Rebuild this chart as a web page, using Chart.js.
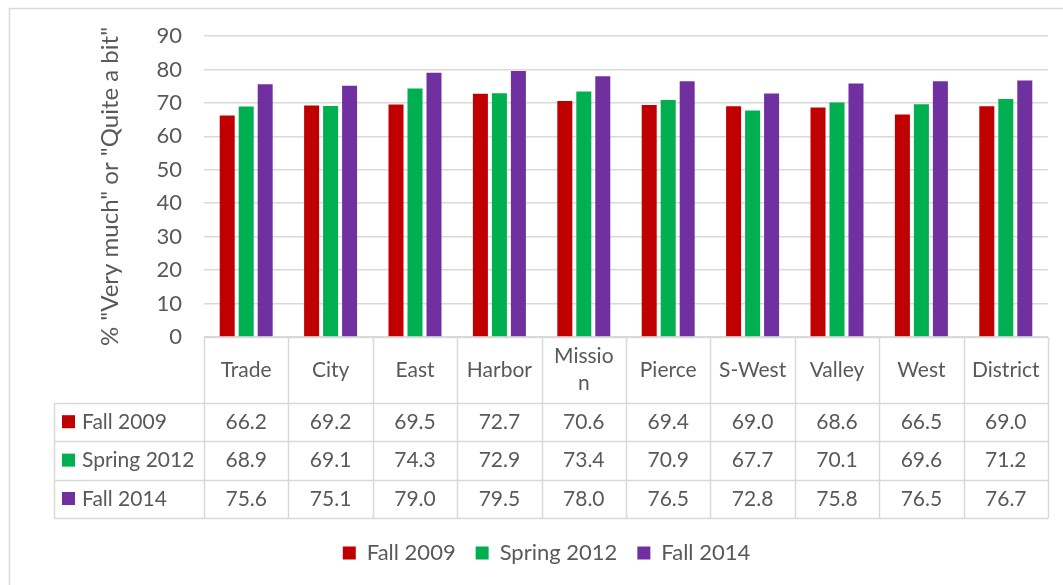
<!DOCTYPE html>
<html>
<head>
<meta charset="utf-8">
<script src="https://cdn.jsdelivr.net/npm/chart.js@4"></script>
<style>
  html, body { margin: 0; padding: 0; background: #fff; }
  #wrap { width: 1063px; height: 585px; }
</style>
</head>
<body>
<div id="wrap"><canvas id="myChart" width="1063" height="585"></canvas></div>
<script>
let categories = ["Trade", "City", "East", "Harbor", "Mission", "Pierce", "S-West", "Valley", "West", "District"];
let headerLabels = [["Trade"], ["City"], ["East"], ["Harbor"], ["Missio", "n"], ["Pierce"], ["S-West"], ["Valley"], ["West"], ["District"]];
let fall2009 = [66.2, 69.2, 69.5, 72.7, 70.6, 69.4, 69.0, 68.6, 66.5, 69.0];
let spring2012 = [68.9, 69.1, 74.3, 72.9, 73.4, 70.9, 67.7, 70.1, 69.6, 71.2];
let fall2014 = [75.6, 75.1, 79.0, 79.5, 78.0, 76.5, 72.8, 75.8, 76.5, 76.7];
let seriesNames = ["Fall 2009", "Spring 2012", "Fall 2014"];
let seriesColors = ["#C00000", "#00B050", "#7030A0"];
let yTitle = '% "Very much" or "Quite a bit"';

const textColor = "#595959";
const lineColor = "#D9D9D9";
const fontFamily = "Lato, 'Open Sans', sans-serif";

// frame around the whole chart + data table under the plot
const tablePlugin = {
  id: "dataTable",
  beforeDraw(chart) {
    const ctx = chart.ctx;
    ctx.save();
    ctx.fillStyle = "#fff";
    ctx.fillRect(0, 0, chart.width, chart.height);
    ctx.strokeStyle = lineColor;
    ctx.lineWidth = 1.5;
    ctx.strokeRect(9.5, 8.5, 1200, 800);
    ctx.restore();
  },
  afterLayout(chart) {
    // nudge legend so it sits centred like the original
    chart.legend.left += 18;
    chart.legend.right += 18;
  },
  afterDraw(chart) {
    const ctx = chart.ctx;
    const area = chart.chartArea;
    const x = chart.scales.x;
    const colW = (area.right - area.left) / categories.length;
    const top = area.bottom;
    const headerH = 66;
    const rowH = 38.4;
    const labelLeft = 54;
    const rows = [fall2009, spring2012, fall2014];
    const bottom = top + headerH + rowH * rows.length;

    ctx.save();
    ctx.strokeStyle = lineColor;
    ctx.lineWidth = 1.5;
    ctx.beginPath();
    // vertical lines
    for (let i = 0; i <= categories.length; i++) {
      const lx = Math.round(area.left + i * colW) + 0.5;
      ctx.moveTo(lx, top);
      ctx.lineTo(lx, bottom);
    }
    ctx.moveTo(labelLeft + 0.5, top + headerH);
    ctx.lineTo(labelLeft + 0.5, bottom);
    // horizontal lines
    ctx.moveTo(area.left, top + 0.5);
    ctx.lineTo(area.right, top + 0.5);
    for (let r = 0; r <= rows.length; r++) {
      const ly = Math.round(top + headerH + r * rowH) + 0.5;
      ctx.moveTo(labelLeft, ly);
      ctx.lineTo(area.right, ly);
    }
    ctx.stroke();

    ctx.fillStyle = textColor;
    ctx.font = "21px " + fontFamily;
    ctx.textAlign = "center";
    ctx.textBaseline = "middle";
    // header labels
    categories.forEach((c, i) => {
      const cx = x.getPixelForValue(i);
      const lines = headerLabels[i];
      const lh = 27;
      const y0 = top + headerH / 2 - (lines.length - 1) * lh / 2;
      lines.forEach((t, k) => ctx.fillText(t, cx, y0 + k * lh));
    });
    // values
    rows.forEach((vals, r) => {
      const cy = top + headerH + r * rowH + rowH / 2;
      vals.forEach((v, i) => {
        ctx.fillText(v.toFixed(1), x.getPixelForValue(i), cy);
      });
      // series key
      ctx.fillStyle = seriesColors[r];
      ctx.fillRect(62, cy - 7, 13, 13);
      ctx.fillStyle = textColor;
      ctx.textAlign = "left";
      ctx.fillText(seriesNames[r], 82, cy);
      ctx.textAlign = "center";
    });
    ctx.restore();
  }
};

let chart = new Chart(document.getElementById("myChart").getContext("2d"), {
  type: "bar",
  data: {
    labels: categories,
    datasets: [
      { label: seriesNames[0], data: fall2009, backgroundColor: seriesColors[0] },
      { label: seriesNames[1], data: spring2012, backgroundColor: seriesColors[1] },
      { label: seriesNames[2], data: fall2014, backgroundColor: seriesColors[2] },
    ],
  },
  options: {
    responsive: false,
    animation: false,
    devicePixelRatio: 1,
    categoryPercentage: 0.675,
    barPercentage: 0.79,
    layout: { padding: { left: 9, right: 15, top: 36, bottom: 11 } },
    plugins: {
      tooltip: { enabled: false },
      legend: {
        position: "bottom",
        labels: {
          color: textColor,
          font: { family: fontFamily, size: 22 },
          boxWidth: 13,
          boxHeight: 13,
          padding: 20,
        },
      },
    },
    scales: {
      x: {
        grid: { display: false },
        border: { display: false },
        ticks: { display: false },
        afterFit(scale) { scale.height = 185; },
      },
      y: {
        min: 0,
        max: 90,
        ticks: {
          stepSize: 10,
          color: textColor,
          font: { family: fontFamily, size: 22 },
          padding: 22,
        },
        grid: { color: lineColor, lineWidth: 1.5, drawTicks: false },
        border: { display: false },
        title: {
          display: true,
          text: yTitle,
          color: textColor,
          font: { family: fontFamily, size: 24 },
          padding: { top: 87, bottom: 0 },
        },
        afterFit(scale) { scale.width = 195; },
      },
    },
  },
  plugins: [tablePlugin],
});
</script>
</body>
</html>
